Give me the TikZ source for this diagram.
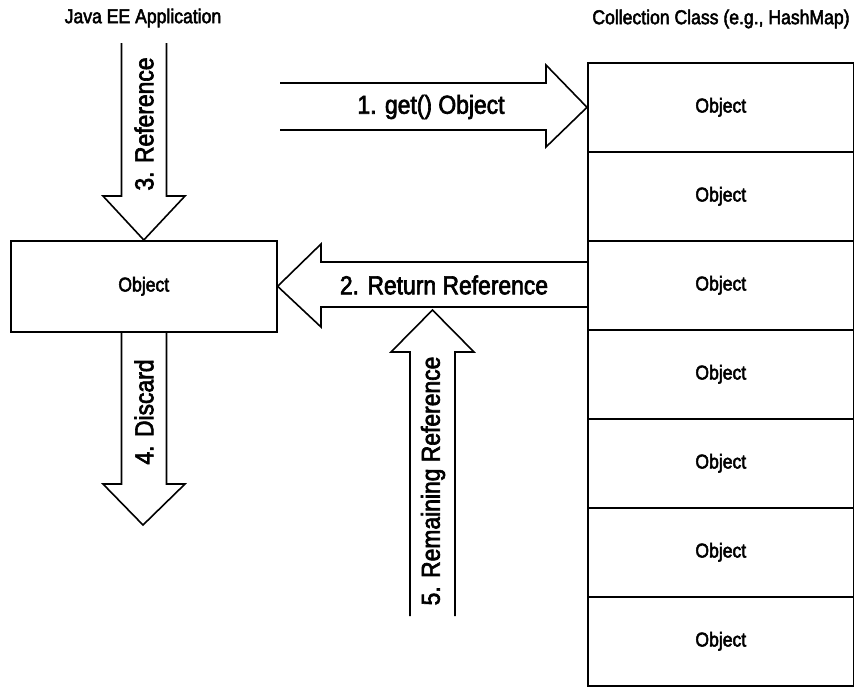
\documentclass[tikz,border=0pt]{standalone}
\usepackage{fontspec}
\setmainfont{Liberation Sans}[FakeStretch=0.88, FakeBold=2.5]
\begin{document}
\begin{tikzpicture}[x=1pt,y=-1pt, line width=1.6pt, line join=miter]
\tikzset{
 cell/.style={draw, minimum width=266pt, minimum height=89pt, anchor=north west, inner sep=0pt, font=\fontsize{20}{24}\selectfont},
 blockarrow/.style={draw, line width=1.6pt},
 lbl/.style={font=\fontsize{26}{30}\selectfont, inner sep=0pt},
 title/.style={font=\fontsize{20}{24}\selectfont, inner sep=0pt}
}
\useasboundingbox (0,0) rectangle (854,686);
\node[title] (javatitle) at (143,18) {Java EE Application};
\node[title] (colltitle) at (721,19) {Collection Class (e.g., HashMap)};
\node[cell, minimum height=91pt] (app) at (10,240) {Object};
\foreach \i in {0,...,6} {\node[cell] (c\i) at (587,{62+89*\i}) {Object};}
% 3. Reference
\draw[blockarrow] (121.5,43) -- (121.5,196) -- (103,196) -- (app.north) -- (185,196) -- (166.5,196) -- (166.5,43);
% 4. Discard
\draw[blockarrow] (121.5,331) -- (121.5,484) -- (103,484) -- (143,525) -- (185,484) -- (166.5,484) -- (166.5,331);
% 5. Remaining Reference
\draw[blockarrow] (410,616) -- (410,352) -- (391,352) -- (432.5,310) -- (474,352) -- (455,352) -- (455,616);
% 1. get() Object
\draw[blockarrow] (280,83) -- (546,83) -- (546,65) -- (c0.west) -- (546,147) -- (546,130) -- (280,130);
% 2. Return Reference
\draw[blockarrow] (587,262) -- (321,262) -- (321,244) -- (app.east) -- (321,327) -- (321,307) -- (587,307);
\node[lbl, rotate=90] (l3) at (144,124) {3. Reference};
\node[lbl, rotate=90] (l4) at (144,412) {4. Discard};
\node[lbl, rotate=90] (l5) at (433,481) {5. Remaining Reference};
\node[lbl] (l1) at (431,107) {1. get() Object};
\node[lbl] (l2) at (444,285) {2. Return Reference};
\end{tikzpicture}
\end{document}
